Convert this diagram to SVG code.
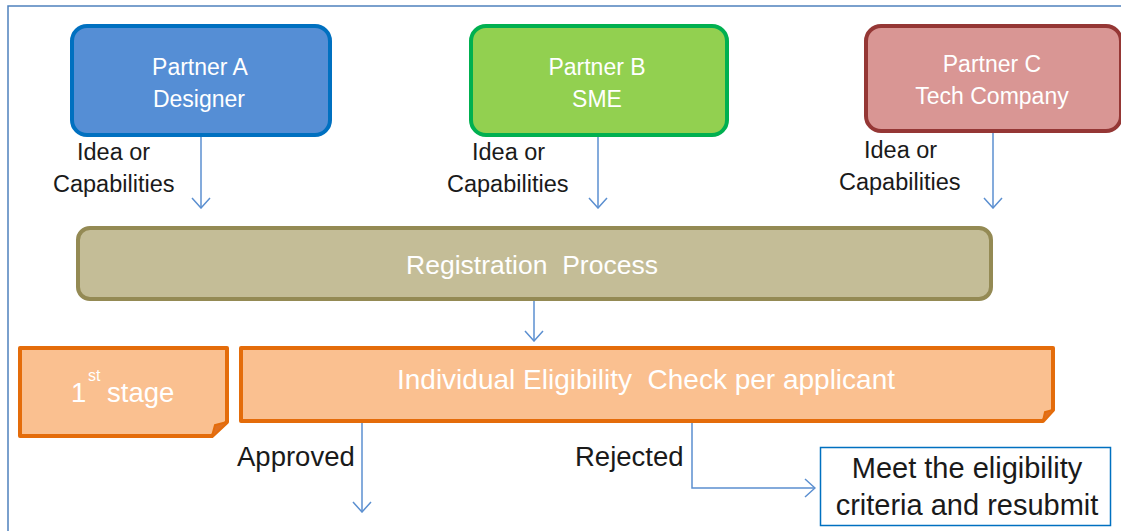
<svg xmlns="http://www.w3.org/2000/svg" width="1121" height="531" viewBox="0 0 1121 531">
<defs>
<style>
.lbl{font-family:"Liberation Sans",Arial,sans-serif;fill:#1a1a1a}
.wt{font-family:"Liberation Sans",Arial,sans-serif;fill:#ffffff}
.conn{stroke:#5b8fd0;stroke-width:1.5;fill:none}
</style>
<marker id="arr" viewBox="0 0 12 20" refX="11" refY="10" markerWidth="12" markerHeight="20" markerUnits="userSpaceOnUse" orient="auto">
<path d="M1,1 L11,10 L1,19" fill="none" stroke="#5b8fd0" stroke-width="1.5"/>
</marker>
</defs>
<rect width="1121" height="531" fill="#ffffff"/>
<path d="M8,531 L8,6 L1121,6" fill="none" stroke="#4f81bd" stroke-width="1.5"/>

<g id="partnerA">
<rect x="72" y="26" width="258" height="109" rx="15" fill="#558ed5" stroke="#0070c0" stroke-width="4"/>
<text class="wt" x="200" y="75" font-size="23" text-anchor="middle">Partner A</text>
<text class="wt" x="199" y="107" font-size="23" text-anchor="middle">Designer</text>
</g>
<g id="partnerB">
<rect x="471" y="26" width="256" height="109" rx="15" fill="#92d050" stroke="#00b050" stroke-width="4"/>
<text class="wt" x="597" y="75" font-size="23" text-anchor="middle">Partner B</text>
<text class="wt" x="597" y="107" font-size="23" text-anchor="middle">SME</text>
</g>
<g id="partnerC">
<rect x="866" y="26" width="255" height="105" rx="15" fill="#d99694" stroke="#953735" stroke-width="4"/>
<text class="wt" x="992" y="72" font-size="23" text-anchor="middle">Partner C</text>
<text class="wt" x="992" y="104" font-size="23" text-anchor="middle">Tech Company</text>
</g>
<g id="registration">
<rect x="78" y="228" width="913" height="71" rx="12" fill="#c4bd97" stroke="#948a54" stroke-width="4"/>
<text class="wt" x="532" y="274" font-size="26.5" text-anchor="middle" xml:space="preserve">Registration  Process</text>
</g>
<g id="stage1">
<path d="M20,348 L227,348 L227,422 L212,436 L20,436 Z" fill="#fac090" stroke="#e46c0a" stroke-width="4" stroke-linejoin="round"/>
<path d="M227,422 L215,425 L212,436" fill="#e07020" stroke="#e46c0a" stroke-width="2"/>
<text class="wt" x="71" y="402" font-size="27.5">1</text>
<text class="wt" x="88" y="381" font-size="16">st</text>
<text class="wt" x="107" y="402" font-size="27.5">stage</text>
</g>
<g id="eligibility">
<path d="M241,348 L1053,348 L1053,410 L1043,421 L241,421 Z" fill="#fac090" stroke="#e46c0a" stroke-width="4" stroke-linejoin="round"/>
<path d="M1053,410 L1045,412 L1043,421" fill="#e07020" stroke="#e46c0a" stroke-width="2"/>
<text class="wt" x="646" y="389" font-size="28" text-anchor="middle" xml:space="preserve">Individual Eligibility  Check per applicant</text>
</g>
<g id="resubmit">
<rect x="820.5" y="447.5" width="290" height="78" fill="#ffffff" stroke="#0070c0" stroke-width="1.5"/>
<text class="lbl" x="967" y="478" font-size="29" text-anchor="middle">Meet the eligibility</text>
<text class="lbl" x="967" y="515" font-size="29" text-anchor="middle">criteria and resubmit</text>
</g>

<g id="connectors">
<line class="conn" x1="201" y1="137" x2="201" y2="208" marker-end="url(#arr)"/>
<line class="conn" x1="598" y1="137" x2="598" y2="208" marker-end="url(#arr)"/>
<line class="conn" x1="993" y1="133" x2="993" y2="208" marker-end="url(#arr)"/>
<line class="conn" x1="534" y1="301" x2="534" y2="341" marker-end="url(#arr)"/>
<line class="conn" x1="362" y1="423" x2="362" y2="512" marker-end="url(#arr)"/>
<path class="conn" d="M692,423 L692,488 L815,488" marker-end="url(#arr)"/>
</g>

<g id="labels">
<text class="lbl" x="77" y="160" font-size="23.5">Idea or</text>
<text class="lbl" x="53" y="192" font-size="23.5">Capabilities</text>
<text class="lbl" x="472" y="160" font-size="23.5">Idea or</text>
<text class="lbl" x="447" y="192" font-size="23.5">Capabilities</text>
<text class="lbl" x="864" y="158" font-size="23.5">Idea or</text>
<text class="lbl" x="839" y="190" font-size="23.5">Capabilities</text>
<text class="lbl" x="237" y="466" font-size="27.5">Approved</text>
<text class="lbl" x="575" y="466" font-size="27.5">Rejected</text>
</g>
</svg>
